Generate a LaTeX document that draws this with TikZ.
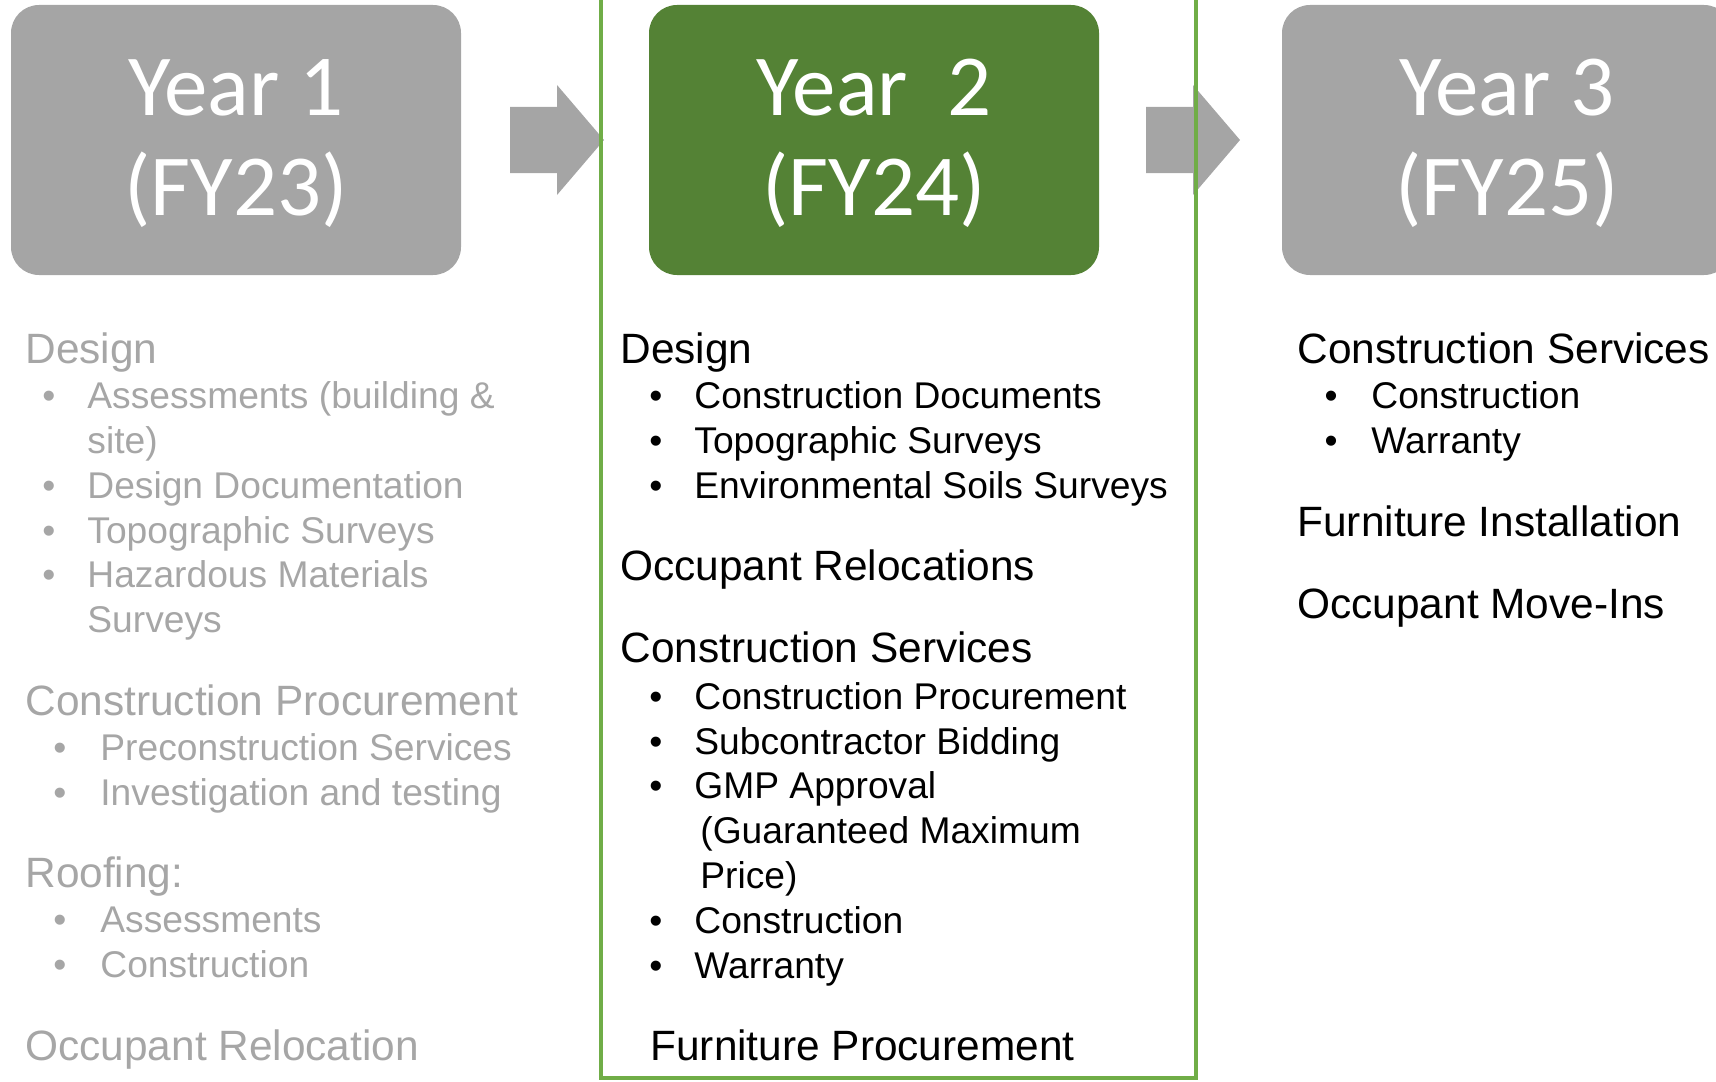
\documentclass[tikz,border=0pt]{standalone}
\usepackage{fontspec}
\setmainfont{Liberation Sans}
\newfontfamily\calibfont{Carlito}
\definecolor{boxgray}{HTML}{A5A5A5}
\definecolor{boxgreen}{HTML}{548235}
\definecolor{framegreen}{HTML}{70AD47}
\definecolor{pastgray}{HTML}{A6A6A6}
\tikzset{
  yearbox/.style={rounded corners=14pt, minimum width=225pt, minimum height=135pt, inner sep=0pt},
  yeartext/.style={inner sep=0pt, text=white, align=center,
    font=\calibfont\fontsize{43.5}{50}\selectfont},
  phase/.style={anchor=base west, inner sep=0pt, font=\fontsize{21.2}{25}\selectfont},
  task/.style={anchor=base west, inner sep=0pt, font=\fontsize{18.6}{22}\selectfont},
  bulletsym/.style={anchor=base, inner sep=0pt, font=\fontsize{18.6}{22}\selectfont},
  past/.style={text=pastgray}
}
\begin{document}
\begin{tikzpicture}[x=0.5pt, y=-0.5pt]
  \useasboundingbox (0,0) rectangle (1716,1081);
  \clip (0,0) rectangle (1716,1081);

  % Years
  \node[yearbox, fill=boxgray] (y1) at (236,140) {};
  \node[yearbox, fill=boxgreen] (y2) at (874,140) {};
  \node[yearbox, fill=boxgray] (y3) at (1507,140) {};
  \node[yeartext] (t1) at ([yshift=-1.8pt]y1.center) {Year 1\\(FY23)};
  \node[yeartext] (t2) at ([yshift=-1.8pt]y2.center) {Year\ \ 2\\(FY24)};
  \node[yeartext] (t3) at ([yshift=-1.8pt]y3.center) {Year 3\\(FY25)};

  % Block arrows
  \foreach \ax in {510,1146}
    \fill[boxgray] (\ax,107) -- ++(47,0) -- ++(0,-22) -- ++(47,55) -- ++(-47,55)
      -- ++(0,-22) -- ++(-47,0) -- cycle;

  % Current year frame
  \draw[framegreen, line width=2pt] (601,-20) rectangle (1196,1078);

  % Year 1 (done)
  \node[phase, past] (a1) at (25,363) {Design};
  \node[task, past] (a2) at (87,408) {Assessments (building \&};
  \node[task, past] (a3) at (87,453) {site)};
  \node[task, past] (a4) at (87,498) {Design Documentation};
  \node[task, past] (a5) at (87,543) {Topographic Surveys};
  \node[task, past] (a6) at (87,587) {Hazardous Materials};
  \node[task, past] (a7) at (87,632) {Surveys};
  \node[phase, past] (a8) at (25,715) {Construction Procurement};
  \node[task, past] (a9) at (100,760) {Preconstruction Services};
  \node[task, past] (a10) at (100,805) {Investigation and testing};
  \node[phase, past] (a11) at (25,887) {Roofing:};
  \node[task, past] (a12) at (100,932) {Assessments};
  \node[task, past] (a13) at (100,977) {Construction};
  \node[phase, past] (a14) at (25,1060) {Occupant Relocation};
  \foreach \y in {408,498,543,587}
    \node[bulletsym, past] (ab\y) at (49,\y) {\textbullet};
  \foreach \y in {760,805,932,977}
    \node[bulletsym, past] (ac\y) at (60,\y) {\textbullet};

  % Year 2
  \node[phase] (b1) at (620,363) {Design};
  \node[task] (b2) at (694,408) {Construction Documents};
  \node[task] (b3) at (694,453) {Topographic Surveys};
  \node[task] (b4) at (694,498) {Environmental Soils Surveys};
  \node[phase] (b5) at (620,580) {Occupant Relocations};
  \node[phase] (b6) at (620,662) {Construction Services};
  \node[task] (b7) at (694,709) {Construction Procurement};
  \node[task] (b8) at (694,754) {Subcontractor Bidding};
  \node[task] (b9) at (694,798) {GMP Approval};
  \node[task] (b10) at (700,843) {(Guaranteed Maximum};
  \node[task] (b11) at (700,888) {Price)};
  \node[task] (b12) at (694,933) {Construction};
  \node[task] (b13) at (694,978) {Warranty};
  \node[phase] (b14) at (650,1060) {Furniture Procurement};
  \foreach \y in {408,453,498,709,754,798,933,978}
    \node[bulletsym] (bb\y) at (656,\y) {\textbullet};

  % Year 3
  \node[phase] (c1) at (1297,363) {Construction Services};
  \node[task] (c2) at (1371,408) {Construction};
  \node[task] (c3) at (1371,453) {Warranty};
  \node[phase] (c4) at (1297,536) {Furniture Installation};
  \node[phase] (c5) at (1297,618) {Occupant Move-Ins};
  \foreach \y in {408,453}
    \node[bulletsym] (cb\y) at (1331,\y) {\textbullet};
\end{tikzpicture}
\end{document}
